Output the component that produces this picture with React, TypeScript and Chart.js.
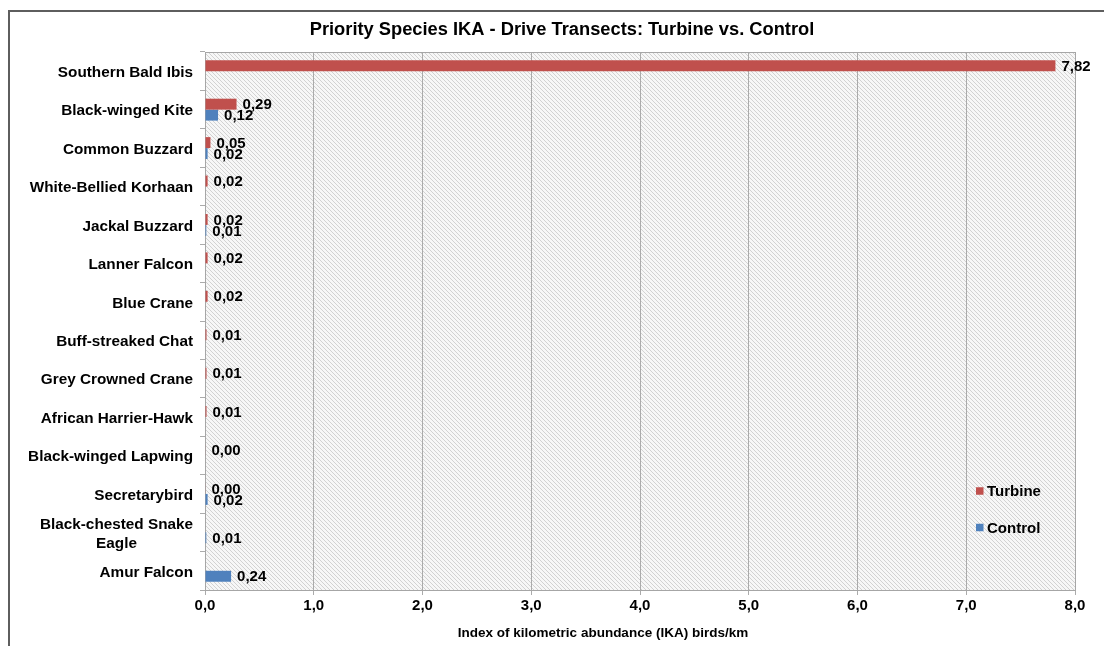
import React, { useEffect, useRef } from "react";
import { Chart, registerables } from "chart.js";

Chart.register(...registerables);

const chartTitle = "Priority Species IKA - Drive Transects: Turbine vs. Control";
const xAxisTitle = "Index of kilometric abundance (IKA) birds/km";

const categories = [
  "Southern Bald Ibis",
  "Black-winged Kite",
  "Common Buzzard",
  "White-Bellied Korhaan",
  "Jackal Buzzard",
  "Lanner Falcon",
  "Blue Crane",
  "Buff-streaked Chat",
  "Grey Crowned Crane",
  "African Harrier-Hawk",
  "Black-winged Lapwing",
  "Secretarybird",
  "Black-chested Snake\nEagle",
  "Amur Falcon",
];

const turbine: (number | null)[] = [7.82, 0.29, 0.05, 0.024, 0.024, 0.024, 0.024, 0.014, 0.014, 0.014, 0.004, 0.004, null, null];
const control: (number | null)[] = [null, 0.12, 0.024, null, 0.012, null, null, null, null, null, null, 0.024, 0.012, 0.24];

const seriesNames = ["Turbine", "Control"];
const seriesColors = ["#C0504D", "#4F81BD"];

const xMin = 0;
const xMax = 8;
const xStep = 1;

const FONT = "Arial, 'Liberation Sans', sans-serif";

function fmt(v: number, d: number) {
  return v.toFixed(d).replace(".", ",");
}

function makePattern(ctx: CanvasRenderingContext2D) {
  const c = document.createElement("canvas");
  c.width = 4;
  c.height = 4;
  const p = c.getContext("2d")!;
  p.fillStyle = "#f7f7f7";
  p.fillRect(0, 0, 4, 4);
  p.fillStyle = "#d2d2d2";
  for (let i = 0; i < 4; i++) p.fillRect(i, i, 1, 1);
  return ctx.createPattern(c, "repeat");
}

const decorPlugin = {
  id: "decor",
  beforeDraw(chart: any) {
    const { ctx, chartArea: a } = chart;
    ctx.save();
    const pat = makePattern(ctx);
    ctx.fillStyle = pat || "#ececec";
    ctx.fillRect(a.left, a.top, a.right - a.left, a.bottom - a.top);
    ctx.restore();
  },
  beforeDatasetsDraw(chart: any) {
    const { ctx, chartArea: a } = chart;
    ctx.save();
    ctx.strokeStyle = "#A6A6A6";
    ctx.lineWidth = 1;
    ctx.strokeRect(Math.round(a.left) + 0.5, Math.round(a.top) + 0.5, Math.round(a.right - a.left), Math.round(a.bottom - a.top));
    ctx.restore();
  },
  afterDatasetsDraw(chart: any) {
    const { ctx } = chart;
    ctx.save();
    ctx.font = `bold 15px ${FONT}`;
    ctx.fillStyle = "#000";
    ctx.textAlign = "left";
    ctx.textBaseline = "middle";
    chart.data.datasets.forEach((ds: any, i: number) => {
      const meta = chart.getDatasetMeta(i);
      meta.data.forEach((el: any, j: number) => {
        const v = ds.data[j];
        if (v === null || v === undefined) return;
        ctx.fillText(fmt(v, 2), el.x + 6, el.y + 1);
      });
    });
    ctx.restore();
  },
  afterDraw(chart: any) {
    const { ctx } = chart;
    const yScale = chart.scales.y;
    ctx.save();
    ctx.fillStyle = "#000";
    ctx.font = `bold 18.3px ${FONT}`;
    ctx.textAlign = "center";
    ctx.textBaseline = "middle";
    ctx.fillText(chartTitle, 562, 30);
    ctx.font = `bold 13.5px ${FONT}`;
    ctx.fillText(xAxisTitle, 603, 633);
    ctx.font = `bold 15.3px ${FONT}`;
    const right = yScale.right - 12;
    const lh = 19;
    (chart.data.labels as string[]).forEach((lab, i) => {
      const lines = lab.split("\n");
      const y = yScale.getPixelForValue(i);
      const w = Math.max(...lines.map((l) => ctx.measureText(l).width));
      const cx = right - w / 2;
      lines.forEach((l, k) => {
        ctx.textAlign = "center";
        ctx.fillText(l, cx, y + 1.5 + (k - (lines.length - 1) / 2) * lh);
      });
    });
    ctx.font = `bold 15px ${FONT}`;
    ctx.textAlign = "left";
    chart.data.datasets.forEach((ds: any, i: number) => {
      const y = 491 + i * 36.5;
      ctx.fillStyle = ds.backgroundColor;
      ctx.fillRect(976, y - 3.75, 7.5, 7.5);
      ctx.fillStyle = "#000";
      ctx.fillText(ds.label, 987, y + 1);
    });
    ctx.restore();
  },
};

export default function App() {
  const ref = useRef<HTMLCanvasElement | null>(null);

  useEffect(() => {
    if (!ref.current) return;
    const chart = new Chart(ref.current, {
      type: "bar",
      data: {
        labels: categories,
        datasets: [
          { label: seriesNames[0], data: turbine, backgroundColor: seriesColors[0], borderWidth: 0 },
          { label: seriesNames[1], data: control, backgroundColor: seriesColors[1], borderWidth: 0 },
        ],
      },
      options: {
        indexAxis: "y",
        animation: false,
        responsive: false,
        devicePixelRatio: 1,
        layout: { padding: { left: 0, right: 29, top: 52, bottom: 0 } },
        datasets: { bar: { categoryPercentage: 0.57, barPercentage: 1 } },
        plugins: {
          legend: { display: false },
          title: { display: false },
          tooltip: { enabled: false },
        },
        scales: {
          x: {
            min: xMin,
            max: xMax,
            afterFit: (s: any) => {
              s.height = 56;
            },
            ticks: {
              stepSize: xStep,
              color: "#000",
              padding: 2,
              font: { family: FONT, size: 15, weight: "bold" },
              callback: (v: any) => fmt(Number(v), 1),
            },
            grid: { color: "#ABABAB", tickLength: 5, drawTicks: true, drawOnChartArea: true },
            border: { display: true, color: "#ABABAB" },
            title: { display: false },
          },
          y: {
            afterFit: (s: any) => {
              s.width = 205;
            },
            ticks: { display: false },
            grid: { color: "#ABABAB", tickLength: 5, drawTicks: true, drawOnChartArea: false, offset: true },
            border: { display: true, color: "#ABABAB" },
          },
        },
      },
      plugins: [decorPlugin],
    } as any);
    return () => chart.destroy();
  }, []);

  return (
    <div style={{ position: "fixed", left: 0, top: 0, width: 1104, height: 646, background: "#fff", overflow: "hidden" }}>
      <div
        style={{
          position: "absolute",
          left: 8,
          top: 10,
          width: 1100,
          height: 640,
          borderTop: "2px solid #5e5e5e",
          borderLeft: "2px solid #5e5e5e",
          boxSizing: "border-box",
        }}
      />
      <canvas ref={ref} width={1104} height={646} style={{ position: "absolute", left: 0, top: 0 }} />
    </div>
  );
}
